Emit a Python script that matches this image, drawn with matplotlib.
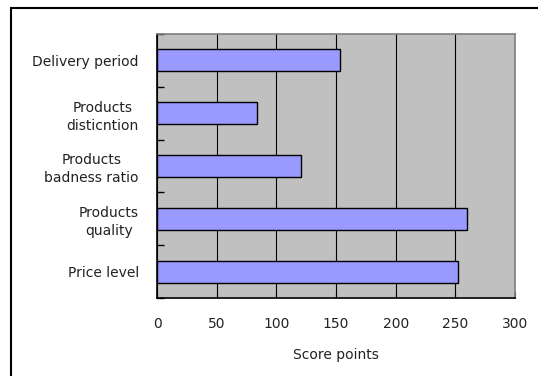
import matplotlib.pyplot as plt
from matplotlib.patches import Rectangle

# categories listed bottom to top, as drawn
categories = ['Price level', 'Products\nquality', 'Products\nbadness ratio',
              'Products\ndisticntion', 'Delivery period']
scores = [252, 260, 121, 84, 153]
x_ticks = [0, 50, 100, 150, 200, 250, 300]

plt.rcParams['font.family'] = ['DejaVu Sans']

fig = plt.figure(figsize=(5.38, 3.76), dpi=100)
fig.patches.append(Rectangle((11 / 538, -0.1), 1.2, (376 - 8) / 376 + 0.1,
                             transform=fig.transFigure, fill=False,
                             edgecolor='black', linewidth=1.5))

ax = fig.add_axes([157 / 538, 78 / 376, 358 / 538, 264 / 376])
ax.set_facecolor('#c0c0c0')
ypos = list(range(len(categories)))
ax.barh(ypos, scores, height=0.42, color='#9999ff', edgecolor='black',
        linewidth=1, zorder=3)

ax.set_xlim(0, 300)
ax.set_ylim(-0.5, len(categories) - 0.5)
ax.set_xticks(x_ticks)
ax.set_yticks(ypos)
ax.set_yticklabels(categories, fontsize=10, color='#222222',
                   multialignment='center', linespacing=1.35)
ax.set_yticks([p - 0.5 for p in range(len(categories) + 1)], minor=True)
ax.tick_params(axis='y', which='major', length=0, pad=13)
ax.tick_params(axis='y', which='minor', length=5, direction='in', width=1)
ax.tick_params(axis='x', length=4, direction='in', labelsize=10,
               labelcolor='#222222', pad=14)
ax.xaxis.grid(True, color='black', linewidth=0.8, zorder=1)
ax.set_axisbelow(True)
ax.set_xlabel('Score points', fontsize=10, color='#222222', labelpad=12)

for side in ['top', 'right']:
    ax.spines[side].set_color('#808080')
    ax.spines[side].set_linewidth(1.2)
for side in ['left', 'bottom']:
    ax.spines[side].set_color('black')
    ax.spines[side].set_linewidth(1.2)

fig.savefig('out.png', dpi=100)
